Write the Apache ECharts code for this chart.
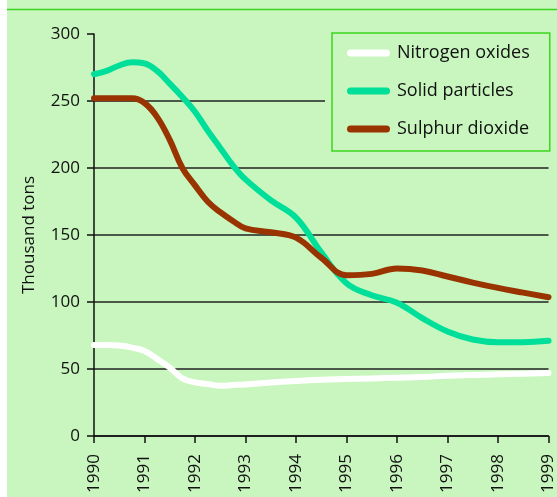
<!DOCTYPE html>
<html>
<head>
<meta charset="utf-8">
<script src="https://cdn.jsdelivr.net/npm/echarts@6/dist/echarts.min.js"></script>
<style>
  html, body { margin: 0; padding: 0; background: #fff; }
  #chart { width: 557px; height: 497px; }
</style>
</head>
<body>
<div id="chart"></div>
<script>
// values: quarter-year steps to 1993, half-year steps after
const years = [1990, 1990.25, 1990.5, 1990.75, 1991, 1991.25, 1991.5, 1991.75, 1992, 1992.25, 1992.5, 1992.75,
  1993, 1993.5, 1994, 1994.5, 1995, 1995.5, 1996, 1996.5, 1997, 1997.5, 1998, 1998.5, 1999];
const nitrogenOxides = [68, 68, 67.5, 66, 63.5, 57.5, 51, 43, 40, 38.8, 37.5, 38,
  38.5, 40, 41, 42, 42.5, 43, 43.5, 44, 45, 45.5, 46, 46.5, 47];
const solidParticles = [270, 272.5, 276.5, 279, 278, 272.5, 263, 253, 242, 228, 215, 202,
  191.5, 176, 163, 137, 114, 105, 99.5, 88, 78, 72, 70, 70, 71];
const sulphurDioxide = [252, 252, 252, 252, 248.5, 238, 221, 200, 187, 175, 167, 160.5,
  155, 152, 148, 133, 120, 121, 125, 123.5, 119, 114.5, 110.5, 107, 103.5];
const seriesNames = ['Nitrogen oxides', 'Solid particles', 'Sulphur dioxide'];
const yTicks = [0, 50, 100, 150, 200, 250, 300];

const bg = '#c8f6be';
const font = '"Open Sans", sans-serif';
const capsule = 'path://M3.5,0 H39.5 A3.5,3.5 0 0 1 39.5,7 H3.5 A3.5,3.5 0 0 1 3.5,0 Z';

const pairs = (vals) => vals.map((v, i) => [years[i], v]);

const makeSeries = (name, vals, color) => ({
  name: name,
  type: 'line',
  smooth: 0.4,
  symbol: 'none',
  lineStyle: { color: color, width: 6, cap: 'round', join: 'round' },
  itemStyle: { color: color },
  data: pairs(vals)
});

const myChart = echarts.init(document.getElementById('chart'));

const option = {
  backgroundColor: bg,
  animation: false,
  textStyle: { fontFamily: font },
  grid: { left: 94, right: 4, top: 34, bottom: 61 },
  legend: {
    orient: 'vertical',
    left: 332,
    top: 33,
    padding: [9, 20, 11, 15],
    itemGap: 16,
    itemWidth: 43,
    itemHeight: 7,
    icon: capsule,
    backgroundColor: bg,
    borderColor: '#3ad61e',
    borderWidth: 1.5,
    borderRadius: 0,
    textStyle: { fontFamily: font, fontSize: 18, color: '#111', lineHeight: 22, padding: [0, 0, 0, 2] },
    data: seriesNames
  },
  xAxis: {
    type: 'value',
    min: 1990,
    max: 1999,
    interval: 1,
    axisLine: { show: true, onZero: false, lineStyle: { color: '#111', width: 1.5 } },
    axisTick: { show: true, length: 7, lineStyle: { color: '#111', width: 1.5 } },
    axisLabel: {
      rotate: 90,
      margin: 18,
      fontFamily: font,
      fontSize: 17,
      color: '#111',
      formatter: (v) => String(v),
      showMaxLabel: true
    },
    splitLine: { show: false }
  },
  yAxis: {
    type: 'value',
    min: yTicks[0],
    max: yTicks[yTicks.length - 1],
    interval: 50,
    name: 'Thousand tons',
    nameLocation: 'middle',
    nameGap: 56,
    nameTextStyle: { fontFamily: font, fontSize: 17, color: '#111' },
    axisLine: { show: true, lineStyle: { color: '#111', width: 1.5 } },
    axisTick: { show: true, length: 7, lineStyle: { color: '#111', width: 1.5 } },
    axisLabel: { margin: 14, fontFamily: font, fontSize: 17, color: '#111' },
    splitLine: { show: true, showMaxLine: false, lineStyle: { color: '#222', width: 1.5 } }
  },
  graphic: [
    // white margin on the left
    { type: 'rect', z: 10, shape: { x: 0, y: 0, width: 7, height: 497 }, style: { fill: '#fff' } },
    // green rule at the top
    { type: 'line', z: 10, shape: { x1: 7, y1: 9.5, x2: 557, y2: 9.5 }, style: { stroke: '#3ad61e', lineWidth: 1.5 } },
    // clear area round the legend
    { type: 'rect', z: 3, shape: { x: 325, y: 25, width: 232, height: 132 }, style: { fill: bg } }
  ],
  series: [
    makeSeries(seriesNames[0], nitrogenOxides, '#ffffff'),
    makeSeries(seriesNames[1], solidParticles, '#00df9a'),
    makeSeries(seriesNames[2], sulphurDioxide, '#993300')
  ]
};

myChart.setOption(option, true);
</script>
</body>
</html>
